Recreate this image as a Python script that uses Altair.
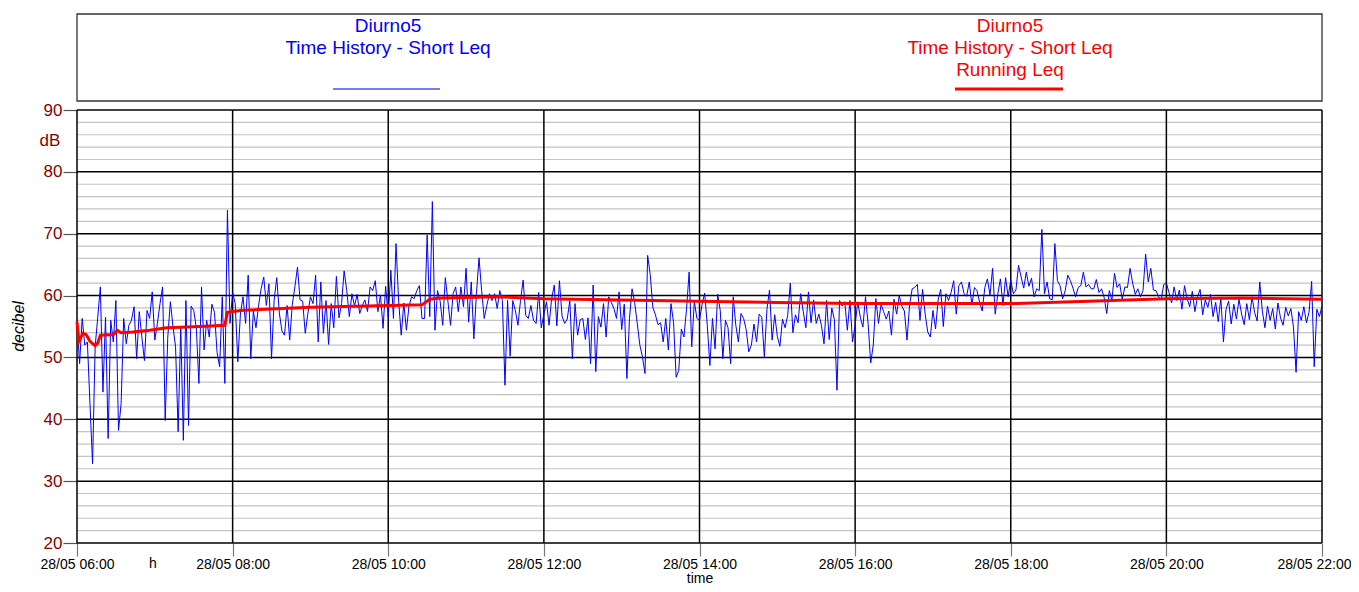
import altair as alt
import pandas as pd

# ---------------- data ----------------
STEP_MIN = 2  # Short Leq sample spacing used here (minutes)

h06 = [55.7, 49.0, 56.3, 52.0, 52.5, 42.5, 32.8, 51.7, 56.5, 61.4, 44.4, 56.5, 36.9, 56.0, 52.5,
       59.2, 38.2, 42.5, 56.3, 52.2, 55.2, 56.0, 58.2, 49.8, 57.4, 53.3, 49.5, 57.6, 56.3, 60.6]
h07 = [52.8, 55.5, 58.7, 61.4, 39.8, 53.3, 59.0, 55.0, 51.7, 38.0, 55.0, 36.6, 59.2, 39.0, 58.3,
       57.6, 54.8, 45.8, 61.4, 51.2, 56.0, 53.3, 58.6, 57.3, 50.8, 48.5, 59.8, 45.8, 73.8, 55.5]
h08 = [60.5, 58.7, 49.3, 57.0, 59.8, 55.5, 63.3, 49.8, 57.5, 54.8, 58.4, 61.1, 63.0, 58.4, 61.9,
       49.8, 59.2, 62.9, 57.2, 54.3, 53.6, 58.4, 52.8, 58.5, 61.4, 64.6, 59.3, 59.1, 53.9, 57.1]
h09 = [59.8, 58.7, 63.3, 52.5, 62.2, 53.9, 59.2, 52.1, 58.7, 54.8, 63.1, 56.4, 58.7, 64.0, 60.8,
       56.6, 60.3, 58.3, 60.2, 57.1, 58.4, 59.3, 57.4, 61.4, 60.8, 62.4, 57.4, 60.1, 54.7, 61.5]
h10 = [56.5, 64.1, 56.3, 68.4, 59.1, 53.6, 58.8, 54.4, 58.3, 59.8, 59.5, 60.8, 61.6, 56.3, 56.3,
       69.8, 56.6, 75.2, 54.4, 60.8, 59.1, 55.2, 62.9, 59.1, 55.2, 60.3, 61.4, 57.4, 61.4, 58.2]
h11 = [64.4, 55.7, 62.2, 53.0, 60.3, 66.1, 60.8, 56.3, 58.4, 60.3, 59.2, 60.3, 57.9, 60.8, 59.2,
       45.5, 59.2, 50.2, 59.2, 57.6, 55.2, 59.2, 62.5, 56.8, 56.3, 58.4, 56.0, 55.5, 60.5, 54.8]
h12 = [57.0, 59.0, 55.2, 59.5, 61.7, 55.1, 62.4, 56.7, 55.5, 56.2, 59.2, 49.8, 58.7, 53.6, 56.1,
       56.3, 52.9, 56.4, 49.0, 61.7, 47.7, 56.6, 54.9, 58.7, 53.3, 59.8, 58.9, 57.9, 56.3, 60.6]
h13 = [54.5, 58.6, 46.6, 56.3, 61.1, 58.9, 55.5, 52.0, 50.1, 47.4, 66.5, 63.4, 58.1, 56.9, 55.3,
       55.6, 52.5, 56.3, 51.2, 58.7, 55.6, 46.8, 47.9, 54.6, 53.3, 57.8, 63.8, 51.7, 59.1, 56.3]
h14 = [56.0, 58.6, 60.4, 55.2, 48.7, 56.3, 51.4, 60.2, 57.6, 49.8, 56.0, 54.8, 49.0, 59.8, 55.2,
       52.5, 57.1, 56.3, 54.5, 50.9, 52.0, 55.4, 52.5, 57.0, 56.5, 50.1, 57.8, 60.9, 52.8, 56.9]
h15 = [53.4, 51.8, 56.2, 54.8, 56.8, 62.0, 54.0, 56.9, 55.6, 60.3, 57.4, 54.8, 60.6, 55.6, 59.3,
       55.5, 57.0, 55.2, 52.2, 59.2, 52.9, 58.0, 56.1, 44.7, 59.2, 58.3, 59.0, 54.4, 59.2, 52.5]
h16 = [55.2, 59.0, 56.5, 54.9, 59.8, 55.5, 49.1, 52.0, 59.5, 55.5, 58.6, 57.4, 56.2, 57.5, 53.6,
       59.4, 57.0, 60.0, 58.3, 57.5, 52.8, 58.5, 61.1, 61.3, 61.8, 56.0, 61.0, 57.0, 54.1, 53.3]
h17 = [57.6, 54.6, 59.3, 61.0, 55.0, 60.3, 59.2, 60.5, 62.4, 57.0, 61.6, 62.2, 60.3, 59.9, 62.2,
       58.5, 61.3, 60.8, 58.9, 57.5, 61.3, 62.7, 60.1, 64.4, 57.0, 60.2, 62.7, 58.4, 62.9, 59.8]
h18 = [62.5, 60.3, 60.9, 64.9, 63.0, 61.2, 63.8, 61.5, 62.8, 59.8, 61.1, 60.8, 70.7, 60.3, 62.2,
       59.5, 59.3, 68.4, 62.4, 61.6, 59.5, 60.8, 63.3, 62.4, 61.2, 59.8, 61.3, 61.6, 63.8, 61.4]
h19 = [61.8, 61.1, 61.1, 62.6, 60.5, 61.1, 59.7, 57.1, 60.8, 59.2, 63.6, 61.3, 61.9, 59.4, 61.4,
       61.3, 64.4, 62.0, 60.2, 61.1, 59.8, 60.8, 66.7, 62.2, 64.4, 60.9, 60.8, 59.8, 59.4, 61.8]
h20 = [62.0, 60.5, 58.8, 61.4, 59.2, 60.9, 57.8, 61.6, 59.5, 58.2, 60.7, 57.4, 59.8, 61.0, 56.9,
       59.3, 58.1, 60.2, 56.6, 58.9, 55.8, 59.6, 52.5, 57.8, 59.1, 55.4, 58.6, 56.2, 59.4, 57.0]
h21 = [55.3, 58.7, 56.1, 59.8, 57.3, 55.9, 62.2, 57.5, 54.8, 58.3, 56.0, 57.9, 54.6, 58.8, 56.4,
       55.2, 58.1, 56.7, 57.9, 54.9, 47.6, 57.4, 56.0, 58.2, 55.6, 57.3, 62.3, 48.5, 57.8, 56.6]
h22 = [58.3]

short_leq = h06 + h07 + h08 + h09 + h10 + h11 + h12 + h13 + h14 + h15 + h16 + h17 + h18 + h19 + h20 + h21 + h22
short_min = [i * STEP_MIN for i in range(len(short_leq))]

running_min = [0, 1.5, 4.5, 7, 10, 14, 16, 18, 28, 31, 34, 43, 56, 69, 95, 114, 116, 126,
               180, 240, 266, 272, 280, 325, 360, 420, 480, 540, 600, 660, 720, 780, 840, 900, 960]
running_leq = [55.8, 52.6, 53.9, 53.7, 52.6, 51.9, 52.3, 53.6, 53.7, 54.4, 54.0, 54.1, 54.4, 54.8,
               55.0, 55.2, 57.3, 57.6, 58.1, 58.4, 58.5, 59.4, 59.6, 59.8, 59.5, 59.3, 59.1, 58.9,
               58.7, 58.7, 58.7, 59.1, 59.5, 59.6, 59.4]

x_ticks = [0, 120, 240, 360, 480, 600, 720, 840, 960]
x_labels = ["28/05 06:00", "28/05 08:00", "28/05 10:00", "28/05 12:00", "28/05 14:00",
            "28/05 16:00", "28/05 18:00", "28/05 20:00", "28/05 22:00"]
y_ticks = [20, 30, 40, 50, 60, 70, 80, 90]
y_minor = [22, 24, 26, 28, 32, 34, 36, 38, 42, 44, 46, 48, 52, 54, 56, 58,
           62, 64, 66, 68, 72, 74, 76, 78, 82, 84, 86, 88]

series_name = "Diurno5"
blue_label = "Time History - Short Leq"
red_label = "Running Leq"

# ---------------- chart ----------------
FONT = "Liberation Sans, Arial, sans-serif"
W, H = 1245, 433
DARKRED = "#8b0000"

xs = alt.Scale(domain=[0, 960], nice=False, zero=False)
ys = alt.Scale(domain=[20, 90], nice=False, zero=False)

label_expr = "[" + ",".join("'" + s + "'" for s in x_labels) + "][round(datum.value/120)]"

X_AXIS = alt.Axis(values=x_ticks, labelExpr=label_expr, grid=False, domain=False,
                  tickSize=13, tickColor="#777777", tickWidth=1.2,
                  labelFont=FONT, labelFontSize=14, labelColor="#000000",
                  labelPadding=1, labelFlush=False,
                  labelOffset={"condition": {"test": "datum.value >= 960", "value": -8}, "value": 0},
                  title="time", titleFont=FONT, titleFontSize=14,
                  titleFontWeight="normal", titleColor="#000000",
                  titleY=35, titleBaseline="middle")
Y_AXIS = alt.Axis(values=y_ticks, grid=False, domain=False,
                  tickSize=14, tickColor="#555555", tickWidth=1.2,
                  labelFont=FONT, labelFontSize=17, labelColor=DARKRED,
                  labelPadding=1,
                  title="decibel", titleFont=FONT, titleFontSize=16,
                  titleFontWeight="normal", titleFontStyle="italic",
                  titleColor="#000000", titleX=-59, titleY=216,
                  titleAngle=270, titleAlign="center", titleBaseline="middle")

blue_df = pd.DataFrame({"t": short_min, "db": short_leq})
red_df = pd.DataFrame({"t": running_min, "db": running_leq})
minor_df = pd.DataFrame({"t": [0] * len(y_minor), "db": y_minor})
major_df = pd.DataFrame({"t": [0] * len(y_ticks), "db": y_ticks})
vert_df = pd.DataFrame({"t": x_ticks, "db": [20] * len(x_ticks)})
dummy = pd.DataFrame({"a": [0]})

minor = alt.Chart(minor_df).mark_rule(color="#c4c4c4", strokeWidth=1.2).encode(
    y=alt.Y("db:Q", scale=ys, axis=Y_AXIS))
major = alt.Chart(major_df).mark_rule(color="#000000", strokeWidth=1.5).encode(
    y=alt.Y("db:Q", scale=ys, axis=Y_AXIS))
vert = alt.Chart(vert_df).mark_rule(color="#000000", strokeWidth=1.5).encode(
    x=alt.X("t:Q", scale=xs, axis=X_AXIS))

blue = alt.Chart(blue_df).mark_line(color="#0000ff", strokeWidth=1).encode(
    x=alt.X("t:Q", scale=xs, axis=X_AXIS),
    y=alt.Y("db:Q", scale=ys, axis=Y_AXIS),
)
red = alt.Chart(red_df).mark_line(color="#ff0000", strokeWidth=3).encode(
    x=alt.X("t:Q", scale=xs, axis=X_AXIS),
    y=alt.Y("db:Q", scale=ys, axis=Y_AXIS),
)


def txt(s, x, y, color="#000000", size=16, **kw):
    return alt.Chart(dummy).mark_text(text=s, color=color, fontSize=size, font=FONT,
                                      align="center", baseline="middle", **kw).encode(
        x=alt.value(x), y=alt.value(y))


legend_box = alt.Chart(dummy).mark_rect(fill="#ffffff", stroke="#333333", strokeWidth=1.3).encode(
    x=alt.value(0), x2=alt.value(W), y=alt.value(-96), y2=alt.value(-9))
blue_key = alt.Chart(dummy).mark_rule(color="#4d4dff", strokeWidth=1.5).encode(
    x=alt.value(256), x2=alt.value(363), y=alt.value(-21))
red_key = alt.Chart(dummy).mark_rule(color="#ff0000", strokeWidth=3).encode(
    x=alt.value(878), x2=alt.value(986), y=alt.value(-21))

texts = [
    txt(series_name, 311, -84, "#0000ff", 19),
    txt(blue_label, 311, -62, "#0000ff", 19),
    txt(series_name, 933, -84, "#ff0000", 19),
    txt(blue_label, 933, -62, "#ff0000", 19),
    txt(red_label, 933, -40, "#ff0000", 19),
    txt("dB", -27, 31, DARKRED, 17),
    txt("h", 76, 454, "#000000", 14),
]

chart = alt.layer(minor, major, vert, blue, red, legend_box, blue_key, red_key, *texts).properties(
    width=W, height=H,
    autosize=alt.AutoSizeParams(type="none"),
    padding={"left": 69, "top": 102, "right": 29, "bottom": 41},
    background="#ffffff",
).configure_view(stroke=None)

chart.save("out.html", embed_options={"renderer": "svg", "actions": False})
